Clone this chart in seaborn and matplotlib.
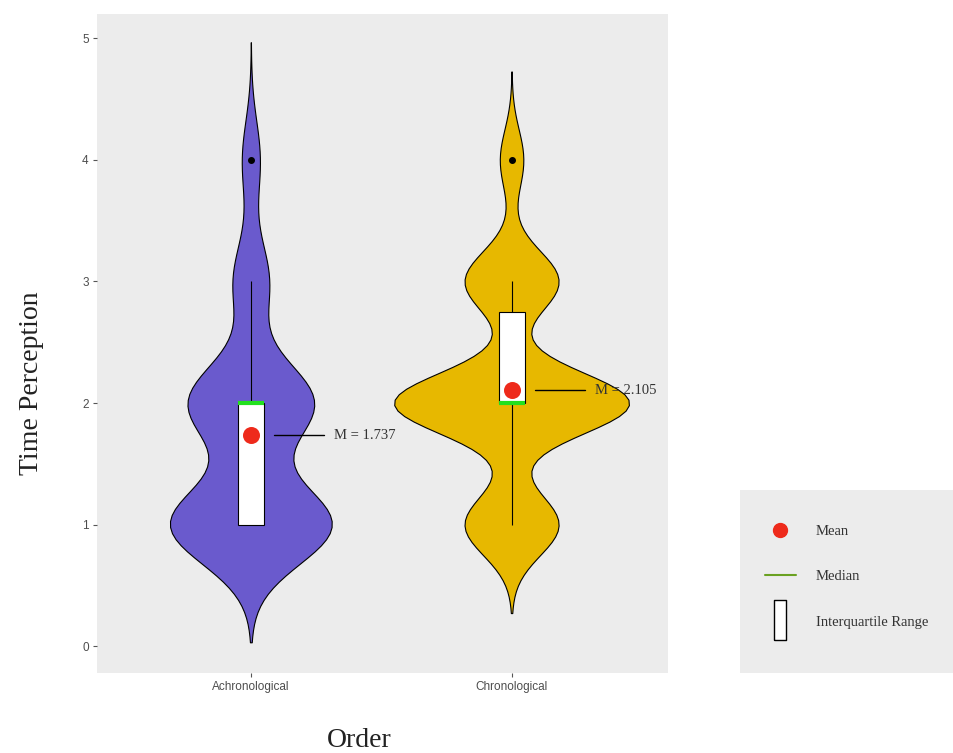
import numpy as np
import pandas as pd
import seaborn as sns
import matplotlib.pyplot as plt
from matplotlib.lines import Line2D
from matplotlib.patches import Rectangle

sns.set_theme(style="dark", rc={"axes.facecolor": "#ececec", "figure.facecolor": "white"})
plt.rcParams["font.family"] = ["Liberation Sans", "DejaVu Sans"]

# responses per group (score -> count)
GROUPS = ["Achronological", "Chronological"]
SCORES = [1, 2, 3, 4]
COUNTS_ACHRON = [9, 7, 2, 1]
COUNTS_CHRON = [4, 10, 4, 1]
GROUP_COLORS = ["#6A5ACD", "#E7B800"]

# summary stats shown on top of the violins
MEANS = [1.737, 2.105]
Q1 = [1.0, 2.0]
MEDIANS = [2.0, 2.0]
Q3 = [2.0, 2.75]
WHISK_LO = [1.0, 1.0]
WHISK_HI = [3.0, 3.0]
OUTLIERS = [[4], [4]]

BW_FACTORS = [0.37, 0.31]
VIOLIN_WIDTHS = [0.62, 0.90]
VIOLIN_CUTS = [3, 2.9]
SERIF = ["Liberation Serif", "DejaVu Serif"]

rows = []
for g, counts in zip(GROUPS, [COUNTS_ACHRON, COUNTS_CHRON]):
    for s, c in zip(SCORES, counts):
        rows += [{"Order": g, "Time Perception": s}] * c
df = pd.DataFrame(rows)

fig = plt.figure(figsize=(9.54, 7.53), dpi=100)
ax = fig.add_axes([0.1017, 0.1063, 0.5985, 0.8751])

for i, g in enumerate(GROUPS):
    sns.violinplot(data=df[df["Order"] == g], x="Order", y="Time Perception", order=GROUPS,
                   color=GROUP_COLORS[i], saturation=1, bw_method=BW_FACTORS[i], cut=VIOLIN_CUTS[i],
                   inner=None, width=VIOLIN_WIDTHS[i], linecolor="black", linewidth=0.8, ax=ax)

box_w = 0.1
for i in range(len(GROUPS)):
    # whiskers
    ax.vlines(i, WHISK_LO[i], Q1[i], color="black", lw=0.8, zorder=3)
    ax.vlines(i, Q3[i], WHISK_HI[i], color="black", lw=0.8, zorder=3)
    ax.add_patch(Rectangle((i - box_w / 2, Q1[i]), box_w, Q3[i] - Q1[i],
                           facecolor="white", edgecolor="black", lw=0.8, zorder=3))
    ax.hlines(MEDIANS[i], i - box_w / 2, i + box_w / 2, color="#22e01e", lw=3, zorder=4)
    ax.scatter([i] * len(OUTLIERS[i]), OUTLIERS[i], s=16, color="black", zorder=4)
    ax.scatter(i, MEANS[i], s=150, color="#EE2A1B", zorder=5, linewidths=0)
    ax.plot([i + 0.09, i + 0.28], [MEANS[i], MEANS[i]], color="black", lw=1, zorder=4)
    ax.text(i + 0.32, MEANS[i], f"M = {MEANS[i]:.3f}", va="center", ha="left",
            family=SERIF, fontsize=10.5, color="#333333", zorder=5)

ax.set_xlim(-0.59, 1.6)
ax.set_ylim(-0.22, 5.2)
ax.set_yticks(range(6))
ax.grid(False)
for sp in ax.spines.values():
    sp.set_visible(False)
ax.tick_params(axis="both", bottom=True, left=True, length=3, width=0.8, color="#555555",
               labelsize=8.5, labelcolor="#4d4d4d", pad=3)

ax.set_xlabel("Order", family=SERIF, fontsize=20, color="#222222")
ax.set_ylabel("Time Perception", family=SERIF, fontsize=20, color="#222222")
ax.xaxis.set_label_coords(0.46, -0.083)
ax.yaxis.set_label_coords(-0.092, 0.44)

# legend in its own grey box at the lower right
lax = fig.add_axes([0.7757, 0.106, 0.2243, 0.2433])
lax.set_facecolor("#ececec")
lax.set_xticks([])
lax.set_yticks([])
for sp in lax.spines.values():
    sp.set_visible(False)

iqr_marker = [(-0.88, -3), (0.88, -3), (0.88, 3), (-0.88, 3), (-0.88, -3)]
handles = [
    Line2D([], [], marker="o", ls="none", color="#EE2A1B", markersize=10),
    Line2D([], [], color="#6aa121", lw=1.5),
    Line2D([], [], marker=iqr_marker, ls="none", markerfacecolor="white",
           markeredgecolor="black", markersize=29, markeredgewidth=1),
]
leg = lax.legend(handles, ["Mean", "Median", "Interquartile Range"], loc="upper left",
                 bbox_to_anchor=(0.117, 0.81), borderaxespad=0, frameon=False,
                 prop={"family": SERIF, "size": 10.5}, borderpad=0, labelspacing=2.2,
                 handlelength=2.1, handletextpad=1.4)
for t in leg.get_texts():
    t.set_color("#333333")

fig.savefig("out.png", dpi=100)
